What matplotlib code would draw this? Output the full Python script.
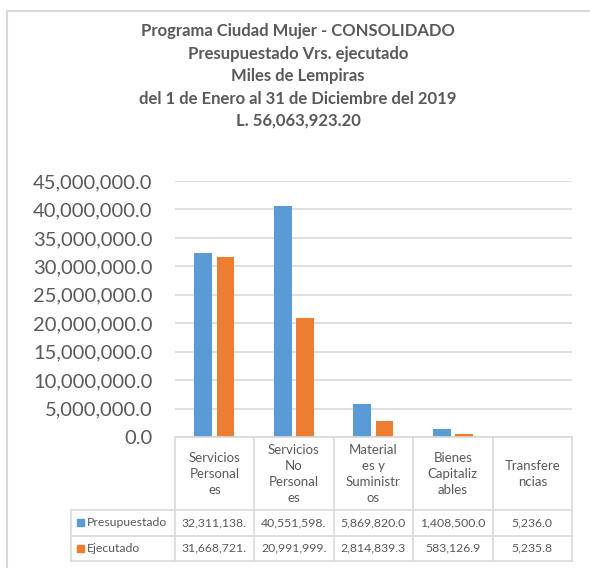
import matplotlib.pyplot as plt
from matplotlib.patches import Rectangle
from matplotlib.ticker import FuncFormatter

# Data
categories = ["Servicios\nPersonal\nes", "Servicios\nNo\nPersonal\nes",
              "Material\nes y\nSuministr\nos", "Bienes\nCapitaliz\nables",
              "Transfere\nncias"]
series_names = ["Presupuestado", "Ejecutado"]
presupuestado = [32311138.0, 40551598.0, 5869820.0, 1408500.0, 5236.0]
ejecutado = [31668721.6, 20991999.6, 2814839.3, 583126.9, 5235.8]
title_lines = ["Programa Ciudad Mujer - CONSOLIDADO",
               "Presupuestado Vrs. ejecutado",
               "Miles de Lempiras",
               "del 1 de Enero al 31 de Diciembre del 2019",
               "L. 56,063,923.20"]

COLORS = ["#5B9BD5", "#ED7D31"]
TXT = "#595959"
GRID = "#D9D9D9"
W, H = 590, 568

plt.rcParams['font.family'] = ['Lato', 'DejaVu Sans']

fig = plt.figure(figsize=(W / 100, H / 100), dpi=100)


def fx(px):
    return px / W


def fy(py):
    return 1 - py / H


# outer chart frame (only top/left visible)
fig.add_artist(plt.Line2D([fx(7), 1], [fy(11), fy(11)], color=GRID, lw=1.5))
fig.add_artist(plt.Line2D([fx(7), fx(7)], [fy(11), 0], color=GRID, lw=1.5))

# title
for i, line in enumerate(title_lines):
    fig.text(fx(298), fy(31 + i * 22.5), line, ha='center', va='center',
             fontsize=12, fontweight='bold', color=TXT)

# bar axes
left, right, top, bottom = 174.7, 572, 181, 437
ax = fig.add_axes([fx(left), fy(bottom), fx(right - left), (bottom - top) / H])
n = len(categories)
xs = range(n)
width = 0.222
off = 0.14
ax.bar([x - off for x in xs], presupuestado, width, color=COLORS[0], zorder=3)
ax.bar([x + off for x in xs], ejecutado, width, color=COLORS[1], zorder=3)
ax.set_xlim(-0.5, n - 0.5)
ax.set_ylim(0, 45000000)
ax.set_yticks(range(0, 45000001, 5000000))
ax.yaxis.set_major_formatter(FuncFormatter(lambda v, p: f"{v:,.1f}"))
ax.tick_params(axis='y', length=0, labelsize=14.5, labelcolor=TXT, pad=16)
ax.set_xticks([])
ax.grid(axis='y', color=GRID, lw=1.2, zorder=0)
for s in ax.spines.values():
    s.set_visible(False)

# data table below the plot
tab_left, tab_right = 71, 572
tax = fig.add_axes([fx(tab_left), fy(561), fx(tab_right - tab_left), (561 - 437) / H])
tax.set_xlim(tab_left, tab_right)
tax.set_ylim(561, 437)
tax.axis('off')
col_w = (tab_right - left) / n
rows_y = [437, 510, 535.5, 561]
lkw = dict(color=GRID, lw=1.2, clip_on=False)

# horizontal lines
tax.plot([left, tab_right], [rows_y[0], rows_y[0]], **lkw)
for y in rows_y[1:]:
    tax.plot([tab_left, tab_right], [y, y], **lkw)
# vertical lines
tax.plot([tab_left, tab_left], [rows_y[1], rows_y[3]], **lkw)
for i in range(n + 1):
    x = left + i * col_w
    tax.plot([x, x], [rows_y[0], rows_y[3]], **lkw)

# header cells
for i, cat in enumerate(categories):
    tax.text(left + (i + 0.5) * col_w, 474, cat, ha='center', va='center',
             fontsize=9.5, color=TXT, linespacing=1.4)

# value rows
for r, (name, vals) in enumerate(zip(series_names, [presupuestado, ejecutado])):
    yc = (rows_y[r + 1] + rows_y[r + 2]) / 2
    tax.add_patch(Rectangle((76.7, yc - 3.5), 7, 7, color=COLORS[r], clip_on=False))
    tax.text(87, yc, name, ha='left', va='center', fontsize=8.8, color=TXT)
    for i, v in enumerate(vals):
        tax.text(left + (i + 0.5) * col_w, yc, f"{v:,.1f}"[:11],
                 ha='center', va='center', fontsize=8.8, color=TXT)

fig.savefig("out.png", dpi=100)
